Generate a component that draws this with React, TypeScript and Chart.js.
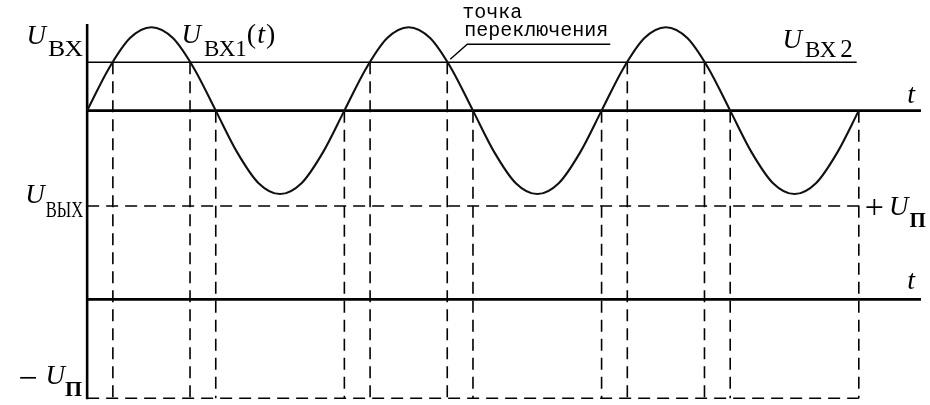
import { useEffect, useRef } from "react";
import { Chart, registerables } from "chart.js";

Chart.register(...registerables);

// Time axis in twelfths of one input period (one period = 12 units)
const timeSamples = [
  0, 1, 2, 3, 4, 5, 6, 7, 8, 9, 10, 11,
  12, 13, 14, 15, 16, 17, 18, 19, 20, 21, 22, 23,
  24, 25, 26, 27, 28, 29, 30, 31, 32, 33, 34, 35,
  36,
];
// Input voltage Uвх1(t), in units of its amplitude
const inputVoltage = [
  0, 0.5, 0.87, 1, 0.87, 0.5, 0, -0.5, -0.87, -1, -0.87, -0.5,
  0, 0.5, 0.87, 1, 0.87, 0.5, 0, -0.5, -0.87, -1, -0.87, -0.5,
  0, 0.5, 0.87, 1, 0.87, 0.5, 0, -0.5, -0.87, -1, -0.87, -0.5,
  0,
];
// Reference level Uвх2
const thresholdLevel = 0.58;
// Switching points where Uвх1 crosses Uвх2
const thresholdCrossings = [1.2, 4.8, 13.2, 16.8, 25.2, 28.8];
// Points where Uвх1 crosses zero
const zeroCrossings = [6, 12, 18, 24, 30, 36];
// Output levels +Uп and −Uп (units of Uп)
const outHigh = 1;
const outLow = -1.06;
// Extents of the drawn lines (time units)
const timeStart = 0;
const thresholdEnd = 35.9;
const axisEnd = 38.9;
const highLineEnd = 36.2;
const lowLineEnd = 36;
const inputAxisTop = 1.04;
const switchLabelIndex = 3; // "точка переключения" points at the 4th crossing

const INK = "#000";
const SERIF = '"Liberation Serif", "Times New Roman", "DejaVu Serif", serif';
const U_FONT = `italic 27px ${SERIF}`;
const SUB_FONT = `23px ${SERIF}`;
const T_FONT = `italic 28px ${SERIF}`;
const SIGN_FONT = `34px ${SERIF}`;
const MONO = '20px "Liberation Mono", "DejaVu Sans Mono", monospace';
const FONTS_TO_LOAD = [
  `italic 27px "Liberation Serif"`,
  `23px "Liberation Serif"`,
  `bold 22px "Liberation Serif"`,
  `20px "Liberation Mono"`,
];

type Part = { text: string; font: string; dy?: number; gap?: number; sx?: number };

function drawParts(
  ctx: CanvasRenderingContext2D,
  parts: Part[],
  x: number,
  baseline: number,
  align: "left" | "right"
) {
  const widths = parts.map((p) => {
    ctx.font = p.font;
    return ctx.measureText(p.text).width * (p.sx ?? 1) + (p.gap ?? 0);
  });
  const total = widths.reduce((a, b) => a + b, 0);
  let cx = align === "left" ? x : x - total;
  parts.forEach((p, i) => {
    ctx.font = p.font;
    ctx.save();
    ctx.translate(cx, baseline + (p.dy ?? 0));
    ctx.scale(p.sx ?? 1, 1);
    ctx.fillText(p.text, 0, 0);
    ctx.restore();
    cx += widths[i];
  });
}

const diagramPlugin = {
  id: "diagram",
  beforeDatasetsDraw(chart: any) {
    const { ctx, scales } = chart;
    const x = scales.x;
    const yIn = scales.yIn;
    const yOut = scales.yOut;
    const bottom = yOut.getPixelForValue(outLow);
    ctx.save();
    ctx.strokeStyle = INK;
    ctx.lineWidth = 1.6;
    ctx.setLineDash([12, 7]);
    const drops: [number, number][] = [
      ...thresholdCrossings.map((t) => [t, thresholdLevel] as [number, number]),
      ...zeroCrossings.map((t) => [t, 0] as [number, number]),
    ];
    for (const [t, lvl] of drops) {
      const px = x.getPixelForValue(t);
      ctx.beginPath();
      ctx.moveTo(px, yIn.getPixelForValue(lvl));
      ctx.lineTo(px, bottom);
      ctx.stroke();
    }
    ctx.setLineDash([]);
    ctx.lineWidth = 2.6;
    const ax = x.getPixelForValue(timeStart);
    ctx.beginPath();
    ctx.moveTo(ax, yIn.getPixelForValue(inputAxisTop));
    ctx.lineTo(ax, bottom + 1);
    ctx.stroke();
    ctx.restore();
  },
  afterDatasetsDraw(chart: any) {
    const { ctx, scales } = chart;
    const x = scales.x;
    const yIn = scales.yIn;
    const yOut = scales.yOut;
    const axisX = x.getPixelForValue(timeStart);
    const thrPx = yIn.getPixelForValue(thresholdLevel);
    const peakPx = yIn.getPixelForValue(1);
    const inZero = yIn.getPixelForValue(0);
    const outZero = yOut.getPixelForValue(0);
    const outHighPx = yOut.getPixelForValue(outHigh);
    const outLowPx = yOut.getPixelForValue(outLow);
    const endX = x.getPixelForValue(lowLineEnd);
    const axisEndPx = x.getPixelForValue(axisEnd);

    ctx.save();
    ctx.fillStyle = INK;
    ctx.strokeStyle = INK;
    ctx.textBaseline = "alphabetic";
    ctx.textAlign = "left";

    // U_вх
    drawParts(
      ctx,
      [
        { text: "U", font: U_FONT, gap: 2 },
        { text: "ВХ", font: SUB_FONT, dy: 12, sx: 1.12 },
      ],
      axisX - 4,
      thrPx - 18,
      "right"
    );
    // U_вх1(t)
    drawParts(
      ctx,
      [
        { text: "U", font: U_FONT, gap: 3 },
        { text: "ВХ1", font: SUB_FONT, dy: 13 },
        { text: "(", font: `28px ${SERIF}`, gap: 1 },
        { text: "t", font: T_FONT, gap: 1 },
        { text: ")", font: `28px ${SERIF}` },
      ],
      x.getPixelForValue(4.4),
      peakPx + 16,
      "left"
    );
    // U_вх2
    drawParts(
      ctx,
      [
        { text: "U", font: U_FONT, gap: 3 },
        { text: "ВХ", font: SUB_FONT, dy: 9, gap: 4 },
        { text: "2", font: `25px ${SERIF}`, dy: 9 },
      ],
      endX - 6,
      thrPx - 14,
      "right"
    );
    // t labels
    drawParts(ctx, [{ text: "t", font: T_FONT }], axisEndPx - 6, inZero - 8, "right");
    drawParts(ctx, [{ text: "t", font: T_FONT }], axisEndPx - 6, outZero - 10, "right");
    // U_вых
    drawParts(
      ctx,
      [
        { text: "U", font: U_FONT, gap: 1 },
        { text: "ВЫХ", font: SUB_FONT, dy: 14, sx: 0.72 },
      ],
      axisX - 4,
      outHighPx - 3,
      "right"
    );
    // +U_п
    drawParts(
      ctx,
      [
        { text: "+", font: SIGN_FONT, dy: 3, gap: 5 },
        { text: "U", font: U_FONT, dy: 0, gap: 1 },
        { text: "П", font: `bold 21px ${SERIF}`, dy: 12 },
      ],
      endX + 6,
      outHighPx + 9,
      "left"
    );
    // −U_п
    drawParts(
      ctx,
      [
        { text: "−", font: SIGN_FONT, dy: 5, gap: 8 },
        { text: "U", font: U_FONT, gap: 0 },
        { text: "П", font: `bold 22px ${SERIF}`, dy: 12 },
      ],
      axisX - 5,
      outLowPx - 14,
      "right"
    );

    // "точка переключения" with leader line
    const cx = x.getPixelForValue(thresholdCrossings[switchLabelIndex]);
    ctx.font = MONO;
    ctx.fillText("точка", cx + 15, thrPx - 44);
    ctx.fillText("переключения", cx + 17, thrPx - 26);
    ctx.lineWidth = 1.4;
    ctx.beginPath();
    ctx.moveTo(cx + 163, thrPx - 18);
    ctx.lineTo(cx + 20, thrPx - 18);
    ctx.lineTo(cx + 3, thrPx - 3);
    ctx.stroke();
    ctx.restore();
  },
};

export default function App() {
  const canvasRef = useRef<HTMLCanvasElement | null>(null);

  useEffect(() => {
    const canvas = canvasRef.current;
    if (!canvas) return;
    const line = (
      pts: { x: number; y: number }[],
      axis: string,
      width: number,
      dash: number[] = []
    ) => ({
      data: pts,
      yAxisID: axis,
      borderColor: INK,
      borderWidth: width,
      borderDash: dash,
      pointRadius: 0,
      fill: false,
      tension: 0,
    });

    const chart = new Chart(canvas, {
      type: "line",
      data: {
        datasets: [
          {
            ...line(
              timeSamples.map((t, i) => ({ x: t, y: inputVoltage[i] })),
              "yIn",
              2.1
            ),
            cubicInterpolationMode: "monotone",
            borderColor: "#111",
          },
          line(
            [
              { x: timeStart, y: thresholdLevel },
              { x: thresholdEnd, y: thresholdLevel },
            ],
            "yIn",
            1.6
          ),
          line(
            [
              { x: timeStart, y: 0 },
              { x: axisEnd, y: 0 },
            ],
            "yIn",
            2.8
          ),
          line(
            [
              { x: timeStart, y: 0 },
              { x: axisEnd, y: 0 },
            ],
            "yOut",
            2.8
          ),
          line(
            [
              { x: timeStart, y: outHigh },
              { x: highLineEnd, y: outHigh },
            ],
            "yOut",
            1.6,
            [12, 7]
          ),
          line(
            [
              { x: timeStart, y: outLow },
              { x: lowLineEnd, y: outLow },
            ],
            "yOut",
            1.6,
            [12, 7]
          ),
        ] as any,
      },
      options: {
        animation: false,
        responsive: false,
        events: [],
        layout: { padding: 0 },
        plugins: {
          legend: { display: false },
          tooltip: { enabled: false },
          title: { display: false },
        },
        scales: {
          x: { type: "linear", min: -4, max: 39.256, display: false },
          yIn: { type: "linear", position: "left", min: -3.5119, max: 1.3095, display: false },
          yOut: { type: "linear", position: "right", min: -1.117, max: 3.1915, display: false },
        },
      } as any,
      plugins: [diagramPlugin],
    });
    let alive = true;
    const fonts: any = (document as any).fonts;
    if (fonts && fonts.load) {
      Promise.all(FONTS_TO_LOAD.map((f) => fonts.load(f, "UВХЫП+−t()12 точка")))
        .catch(() => null)
        .then(() => {
          if (alive) chart.update();
        });
    }
    return () => {
      alive = false;
      chart.destroy();
    };
  }, []);

  return (
    <div
      style={{
        position: "absolute",
        left: 0,
        top: 0,
        width: 930,
        height: 405,
        background: "#fff",
      }}
    >
      <span
        style={{
          position: "absolute",
          left: -9999,
          top: 0,
          fontFamily: '"Liberation Serif"',
          fontStyle: "italic",
        }}
      >
        U<b>П</b>
        <span style={{ fontStyle: "normal" }}>ВХ</span>
        <span style={{ fontFamily: '"Liberation Mono"' }}>точка</span>
      </span>
      <canvas
        ref={canvasRef}
        width={930}
        height={405}
        style={{ width: 930, height: 405, display: "block" }}
      />
    </div>
  );
}
